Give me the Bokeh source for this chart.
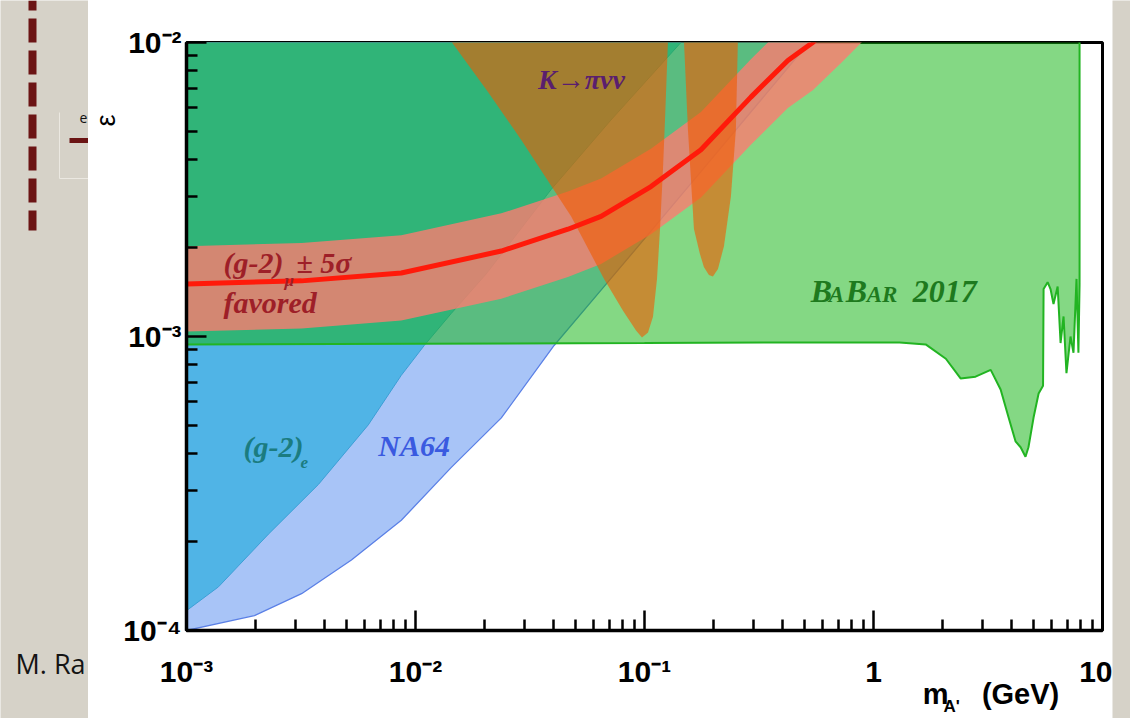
from bokeh.plotting import figure
from bokeh.models import Range1d, FixedTicker, Title, LogAxis
from bokeh.layouts import row
from bokeh.embed import file_html
from bokeh.resources import INLINE
from bokeh.core.properties import value

# ---------------- data ----------------
x_ticks = [0.001, 0.01, 0.1, 1, 10]
x_tick_labels = ["10\u207b\u00b3", "10\u207b\u00b2", "10\u207b\u00b9", "1", "10"]
y_ticks = [0.0001, 0.001, 0.01]
y_tick_labels = ["10\u207b\u2074", "10\u207b\u00b3", "10\u207b\u00b2"]

# NA64 excluded region: lower boundary
na64_x = [0.001, 0.00198, 0.00318, 0.00525, 0.00867, 0.0143, 0.0237, 0.0403,
          0.0693, 0.1067, 0.1764, 0.2914, 0.4816, 0.532]
na64_y = [0.0001, 0.0001124, 0.0001334, 0.0001738, 0.0002371, 0.0003581,
          0.0005286, 0.000932, 0.001533, 0.002282, 0.003639, 0.005801,
          0.009252, 0.01]

# (g-2)_e excluded region: right boundary
g2e_x = [0.001, 0.00138, 0.00228, 0.00377, 0.00622, 0.00867, 0.01092, 0.0143,
         0.02036, 0.0391, 0.0714, 0.1442]
g2e_y = [0.0001168, 0.0001408, 0.0002127, 0.000314, 0.0005004, 0.000738,
         0.000932, 0.001196, 0.001633, 0.003162, 0.005451, 0.01]

# BaBar 2017 excluded region: lower boundary
babar_x = [0.001, 0.01, 0.1, 0.5, 1.0, 1.3, 1.69, 2.07, 2.40, 2.79, 3.25,
           3.59, 3.89, 4.17, 4.39, 4.61, 4.75, 5.00, 5.26, 5.50, 5.53, 5.76,
           5.93, 6.11, 6.37, 6.56, 6.76, 6.96, 7.25, 7.47, 7.70, 7.85, 7.94,
           7.94]
babar_y = [0.00094, 0.000945, 0.00095, 0.000955, 0.000955, 0.000954, 0.00094,
           0.00084, 0.00072, 0.00073, 0.00077, 0.00066, 0.00053, 0.00044,
           0.00042, 0.00039, 0.00042, 0.00053, 0.00064, 0.00068, 0.00145,
           0.00153, 0.00145, 0.00129, 0.00148, 0.00095, 0.00117, 0.00075,
           0.00100, 0.00088, 0.00157, 0.00088, 0.00150, 0.0101]

# K -> pi nu nu excluded regions
k1_x = [0.0143, 0.02077, 0.02892, 0.04778, 0.06658, 0.08057, 0.09182, 0.09752,
        0.1036, 0.1089, 0.1134, 0.1169, 0.1204, 0.1229, 0.1266]
k1_y = [0.0101, 0.006779, 0.00467, 0.002563, 0.00157, 0.001224, 0.001048,
        0.000992, 0.001031, 0.001168, 0.00157, 0.00232, 0.003695, 0.005451,
        0.0101]
k2_x = [0.1487, 0.1548, 0.1644, 0.1746, 0.1817, 0.1911, 0.1990, 0.2093,
        0.2223, 0.2384, 0.2506, 0.2557]
k2_y = [0.0101, 0.00504, 0.00232, 0.001908, 0.001724, 0.00162, 0.0016,
        0.001697, 0.002029, 0.002995, 0.00504, 0.0101]

# (g-2)_mu favored band
g2mu_x = [0.001, 0.00318, 0.00867, 0.0237, 0.0463, 0.0646, 0.1067, 0.1764,
          0.2914, 0.4227, 0.543, 0.718, 0.97, 1.31]
g2mu_center = [0.00151, 0.001546, 0.001644, 0.001953, 0.002317, 0.002563,
               0.003236, 0.004315, 0.00652, 0.00869, 0.0100, 0.01234, 0.0156,
               0.0197]
g2mu_upper = [0.002029, 0.00208, 0.002211, 0.002624, 0.003113, 0.003444,
              0.00435, 0.005801, 0.008762, 0.01169, 0.01344, 0.01658, 0.0209,
              0.0264]
g2mu_lower = [0.00104, 0.001064, 0.001133, 0.001344, 0.001595, 0.001765,
              0.002228, 0.002972, 0.004487, 0.005984, 0.006883, 0.00849,
              0.01073, 0.0133]

X_MIN, X_MAX = 0.001, 10
Y_MIN, Y_MAX = 0.0001, 0.01
TOP = 0.0101

BEIGE = "#d6d2c8"
SLIDE_RED = "#6b1414"
H = 718


def no_align(fig):
    if "frame_align" in fig.properties():
        fig.frame_align = False


def strip(width):
    f = figure(width=width, height=H, x_range=Range1d(0, width),
               y_range=Range1d(H, 0), toolbar_location=None,
               output_backend="svg", x_axis_location=None,
               y_axis_location=None, min_border=0)
    f.grid.visible = False
    f.outline_line_color = None
    f.background_fill_color = BEIGE
    f.border_fill_color = BEIGE
    no_align(f)
    return f


# ---------------- slide strip on the left ----------------
s = strip(88)
s.line([32, 32], [0, 230], line_width=8, line_color=SLIDE_RED,
       line_dash="24 8", line_dash_offset=14)
s.line([59, 59, 88], [112, 178, 178], line_width=1, line_color="#ebe8e1")
s.line([69, 88], [140, 140], line_width=5, line_color=SLIDE_RED)
s.text(x=[79], y=[117], text=["e"], text_font=value("Open Sans"),
       text_font_size="14px", text_baseline="middle", text_color="#111111")
s.text(x=[15], y=[663], text=["M. Ra"], text_font=value("Open Sans"),
       text_font_size="27px", text_baseline="alphabetic", text_color="#141414")

# right slide strip
r = strip(18)

# ---------------- main chart ----------------
p = figure(width=1024, height=H, x_axis_type="log", y_axis_type="log",
           x_range=Range1d(X_MIN, X_MAX), y_range=Range1d(Y_MIN, Y_MAX),
           toolbar_location=None, output_backend="svg",
           min_border_left=97, min_border_right=10, min_border_top=42,
           min_border_bottom=84)
no_align(p)
p.background_fill_color = "white"
p.border_fill_color = "white"
p.grid.visible = False
p.outline_line_color = "black"
p.outline_line_width = 3

# NA64 (light blue)
p.patch(na64_x + [na64_x[-1], X_MIN], na64_y + [TOP, TOP],
        fill_color="#a8c4f7", line_color=None)
p.line(na64_x, na64_y, line_color="#5b80e6", line_width=1.3)
# (g-2)_e (blue)
p.patch(g2e_x + [X_MIN], g2e_y + [TOP], fill_color="#50b4e6", line_color=None)
p.line(g2e_x, g2e_y, line_color="#3d9fd6", line_width=1)
# BaBar 2017 (translucent green)
p.patch(babar_x + [X_MIN], babar_y + [TOP], fill_color=(20, 180, 20),
        fill_alpha=0.52, line_color=None)
p.line(babar_x, babar_y, line_color="#22b422", line_width=2)
# (g-2)_mu band
p.patch(g2mu_x + g2mu_x[::-1], g2mu_upper + g2mu_lower[::-1],
        fill_color=(252, 124, 113), fill_alpha=0.8, line_color=None)
# K -> pi nu nu
p.patch(k1_x, k1_y, fill_color=(240, 90, 0), fill_alpha=0.6, line_color=None)
p.patch(k2_x, k2_y, fill_color=(240, 90, 0), fill_alpha=0.6, line_color=None)
# central (g-2)_mu line
p.line(g2mu_x, g2mu_center, line_color="#ff1a0a", line_width=5)

# axes
x_minor = [k * 10.0 ** e for e in range(-3, 1) for k in range(2, 10)]
y_minor = [k * 10.0 ** e for e in range(-4, -2) for k in range(2, 10)]
p.xaxis.ticker = FixedTicker(ticks=x_ticks, minor_ticks=x_minor)
p.yaxis.ticker = FixedTicker(ticks=y_ticks, minor_ticks=y_minor)
p.xaxis.major_label_overrides = dict(zip(x_ticks, x_tick_labels))
p.yaxis.major_label_overrides = dict(zip(y_ticks, y_tick_labels))
for ax in (p.xaxis, p.yaxis):
    ax.axis_line_width = 3.5
    ax.axis_line_color = "black"
    ax.major_tick_in = 20
    ax.major_tick_out = 0
    ax.minor_tick_in = 11
    ax.minor_tick_out = 0
    ax.major_tick_line_width = 2.5
    ax.minor_tick_line_width = 2.5
    ax.major_tick_line_color = "black"
    ax.minor_tick_line_color = "black"
    ax.major_label_text_font = "Liberation Sans"
    ax.major_label_text_font_style = "bold"
    ax.major_label_text_font_size = "30px"
    ax.major_label_text_color = "black"
p.xaxis.major_label_standoff = 24
p.yaxis.major_label_standoff = 5

# reference-pixel -> data position helper (frame: x 185..1102, y 42..634)


def to_data(X, Y):
    return 10 ** (-3 + (X - 185) / 229.25), 10 ** (-2 - (Y - 42) / 296)


# x axis title "m_A' (GeV)" carried by two label-only axes below the main one
def title_axis(labels, size, standoff):
    ticks = [round(to_data(X, 600)[0], 3) for X, _ in labels]
    ax = LogAxis(ticker=FixedTicker(ticks=ticks, minor_ticks=[]),
                 major_label_overrides={t: txt for t, (_, txt) in zip(ticks, labels)},
                 axis_line_color=None, major_tick_line_color=None,
                 minor_tick_line_color=None, major_tick_in=0, major_tick_out=0,
                 major_label_standoff=standoff,
                 major_label_text_font="Liberation Sans",
                 major_label_text_font_style="bold",
                 major_label_text_font_size=f"{size}px",
                 major_label_text_color="black")
    p.add_layout(ax, "below")


title_axis([(935, "m"), (1020, "(GeV)")], 29, -13)
title_axis([(951, "A'")], 17, -16)

# y axis title (epsilon), near the top of the axis
p.add_layout(Title(text="\u03b5", align="right", offset=72, standoff=0,
                   text_font="Liberation Sans", text_font_style="normal",
                   text_font_size="27px", text_color="black"), "left")


# in-plot texts (X, baseline Y in reference pixels)
def txt(text, X, Y, size, color):
    x, y = to_data(X, Y - 0.33 * size)
    p.text(x=[x], y=[y], text=[text], text_font=value("Liberation Serif"),
           text_font_style="bold italic", text_font_size=f"{size}px",
           text_color=color, text_baseline="alphabetic", text_align="left")


MU_RED = "#9e1f28"
TEAL = "#1b7c80"
BB = "#1e7a1e"
txt("K\u2192\u03c0\u03bd\u03bd", 537, 88, 28, "#5a1e6e")
txt("(g-2)", 222, 273, 30, MU_RED)
txt("\u03bc", 283, 287, 17, MU_RED)
txt("\u00b1 5\u03c3", 295, 273, 30, MU_RED)
txt("favored", 222, 314, 30, MU_RED)
txt("(g-2)", 242, 459, 30, TEAL)
txt("e", 299, 470, 17, TEAL)
txt("NA64", 377, 458, 30, "#3a5ae0")
txt("B", 810, 303, 32, BB)
txt("A", 828, 303, 23, BB)
txt("B", 845, 303, 32, BB)
txt("AR", 866, 303, 23, BB)
txt("2017", 912, 303, 32, BB)

layout = row(s, p, r)
open("out.html", "w").write(file_html(layout, INLINE))
